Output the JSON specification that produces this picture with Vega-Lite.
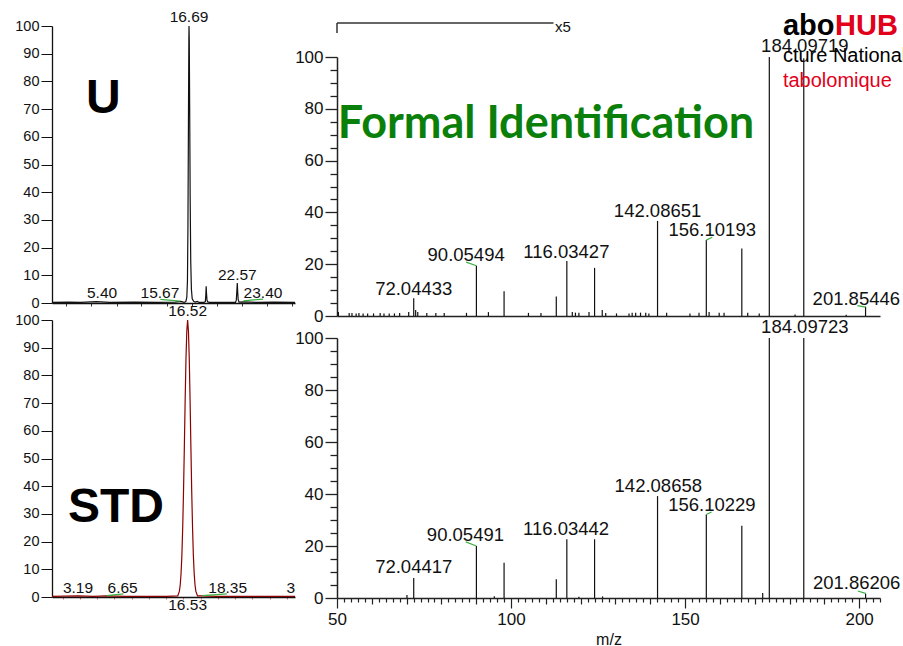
{
  "$schema": "https://vega.github.io/schema/vega-lite/v6.json",
  "autosize": "none",
  "padding": {"left": 52, "top": 26, "right": 851, "bottom": 620},
  "background": "white",
  "bounds": "flush",
  "spacing": 285,
  "datasets": {
    "traceU": [
      {"rt": 0, "inten": 0.2}, {"rt": 2, "inten": 0.3}, {"rt": 3.5, "inten": 0.2}, {"rt": 5.4, "inten": 0.5}, {"rt": 7, "inten": 0.2},
      {"rt": 10, "inten": 0.3}, {"rt": 13, "inten": 0.2}, {"rt": 15, "inten": 0.3}, {"rt": 15.67, "inten": 0.6}, {"rt": 16.1, "inten": 0.2},
      {"rt": 16.3, "inten": 0.5}, {"rt": 16.42, "inten": 2}, {"rt": 16.5, "inten": 8}, {"rt": 16.56, "inten": 28}, {"rt": 16.62, "inten": 65},
      {"rt": 16.67, "inten": 95}, {"rt": 16.69, "inten": 100}, {"rt": 16.72, "inten": 95}, {"rt": 16.77, "inten": 70}, {"rt": 16.83, "inten": 38},
      {"rt": 16.9, "inten": 15}, {"rt": 16.98, "inten": 5}, {"rt": 17.08, "inten": 1.5}, {"rt": 17.25, "inten": 0.6}, {"rt": 17.45, "inten": 0.3},
      {"rt": 17.7, "inten": 0.6}, {"rt": 17.9, "inten": 0.2}, {"rt": 18.5, "inten": 0.2}, {"rt": 18.68, "inten": 0.5}, {"rt": 18.74, "inten": 3},
      {"rt": 18.78, "inten": 6}, {"rt": 18.82, "inten": 3.5}, {"rt": 18.88, "inten": 1}, {"rt": 18.98, "inten": 0.4}, {"rt": 19.2, "inten": 0.2},
      {"rt": 21, "inten": 0.2}, {"rt": 22.35, "inten": 0.2}, {"rt": 22.45, "inten": 1}, {"rt": 22.52, "inten": 4.5}, {"rt": 22.57, "inten": 7.2},
      {"rt": 22.62, "inten": 4}, {"rt": 22.68, "inten": 1.2}, {"rt": 22.78, "inten": 0.3}, {"rt": 23.4, "inten": 0.4}, {"rt": 25, "inten": 0.2},
      {"rt": 27, "inten": 0.3}, {"rt": 29.6, "inten": 0.2}
    ],
    "traceS": [
      {"rt": 0, "inten": 0.2}, {"rt": 3.19, "inten": 0.4}, {"rt": 5, "inten": 0.2}, {"rt": 6.65, "inten": 0.4}, {"rt": 9, "inten": 0.2},
      {"rt": 12, "inten": 0.2}, {"rt": 14, "inten": 0.2}, {"rt": 15.32, "inten": 0.4}, {"rt": 15.52, "inten": 2.1}, {"rt": 15.62, "inten": 4.4},
      {"rt": 15.72, "inten": 8.5}, {"rt": 15.82, "inten": 15}, {"rt": 15.92, "inten": 25}, {"rt": 16.02, "inten": 38}, {"rt": 16.12, "inten": 54},
      {"rt": 16.22, "inten": 71}, {"rt": 16.32, "inten": 86}, {"rt": 16.42, "inten": 96}, {"rt": 16.52, "inten": 100}, {"rt": 16.62, "inten": 96},
      {"rt": 16.72, "inten": 86}, {"rt": 16.82, "inten": 71}, {"rt": 16.92, "inten": 54}, {"rt": 17.02, "inten": 38}, {"rt": 17.12, "inten": 25},
      {"rt": 17.22, "inten": 15}, {"rt": 17.32, "inten": 8.5}, {"rt": 17.42, "inten": 4.4}, {"rt": 17.52, "inten": 2.1}, {"rt": 17.72, "inten": 0.4},
      {"rt": 18.35, "inten": 0.4}, {"rt": 20, "inten": 0.2}, {"rt": 23, "inten": 0.2}, {"rt": 26, "inten": 0.2}, {"rt": 29.6, "inten": 0.2}
    ],
    "labU": [
      {"rt": 6.1, "inten": 1.8, "label": "5.40"},
      {"rt": 13.15, "inten": 1.8, "label": "15.67"},
      {"rt": 16.69, "inten": 101.4, "label": "16.69"},
      {"rt": 22.57, "inten": 8.3, "label": "22.57"},
      {"rt": 25.7, "inten": 1.8, "label": "23.40"}
    ],
    "labS": [
      {"rt": 16.52, "inten": 101.4, "label": "16.52"},
      {"rt": 3.17, "inten": 1.4, "label": "3.19"},
      {"rt": 8.6, "inten": 1.4, "label": "6.65"},
      {"rt": 21.4, "inten": 1.4, "label": "18.35"},
      {"rt": 29.1, "inten": 1.4, "label": "3"},
      {"rt": 16.52, "inten": -4.6, "label": "16.53"}
    ],
    "greenU": [
      {"rt": 13.2, "inten": 1.3, "rt2": 15.6, "inten2": 0.7},
      {"rt": 23.3, "inten": 0.8, "rt2": 25.7, "inten2": 1.4}
    ],
    "greenS": [
      {"rt": 6.66, "inten": 0.5, "rt2": 8.7, "inten2": 1.1},
      {"rt": 18.3, "inten": 0.5, "rt2": 21.3, "inten2": 1.1}
    ],
    "specU": [
      {"mz": 72.04, "rel": 6.9}, {"mz": 90.05, "rel": 19.4}, {"mz": 98.0, "rel": 9.6}, {"mz": 113.0, "rel": 7.5},
      {"mz": 116.03, "rel": 21.2}, {"mz": 124.0, "rel": 18.6}, {"mz": 142.09, "rel": 36.7}, {"mz": 156.1, "rel": 29.3},
      {"mz": 166.3, "rel": 26.1}, {"mz": 174.2, "rel": 100}, {"mz": 184.1, "rel": 99.5}, {"mz": 201.85, "rel": 3.6},
      {"mz": 50.4, "rel": 1.5}, {"mz": 53.5, "rel": 1.2}, {"mz": 54.3, "rel": 1.2}, {"mz": 55.5, "rel": 1.0}, {"mz": 56.3, "rel": 1.2},
      {"mz": 57.5, "rel": 1.0}, {"mz": 58.8, "rel": 1.0}, {"mz": 60.5, "rel": 1.0}, {"mz": 62.4, "rel": 1.2}, {"mz": 63.5, "rel": 1.0},
      {"mz": 65.0, "rel": 1.0}, {"mz": 66.5, "rel": 1.0}, {"mz": 68.0, "rel": 1.2}, {"mz": 70.6, "rel": 1.5}, {"mz": 72.6, "rel": 2.3},
      {"mz": 73.2, "rel": 1.5}, {"mz": 75.8, "rel": 1.2}, {"mz": 78.4, "rel": 1.2}, {"mz": 80.8, "rel": 1.2}, {"mz": 87.2, "rel": 1.2},
      {"mz": 93.5, "rel": 1.5}, {"mz": 105.0, "rel": 1.2}, {"mz": 108.6, "rel": 1.2}, {"mz": 117.6, "rel": 1.5}, {"mz": 118.5, "rel": 1.3},
      {"mz": 119.5, "rel": 1.3}, {"mz": 122.4, "rel": 1.5}, {"mz": 126.2, "rel": 2.3}, {"mz": 127.2, "rel": 1.2}, {"mz": 130.3, "rel": 1.0},
      {"mz": 133.9, "rel": 1.0}, {"mz": 134.8, "rel": 1.3}, {"mz": 135.8, "rel": 1.3}, {"mz": 137.2, "rel": 1.3}, {"mz": 138.7, "rel": 1.3},
      {"mz": 139.6, "rel": 1.0}, {"mz": 144.7, "rel": 1.3}, {"mz": 151.4, "rel": 1.0}, {"mz": 154.0, "rel": 1.3}, {"mz": 156.9, "rel": 1.5},
      {"mz": 159.8, "rel": 1.3}, {"mz": 161.2, "rel": 1.3}, {"mz": 168.0, "rel": 1.3}, {"mz": 171.3, "rel": 1.0}, {"mz": 181.6, "rel": 0.6},
      {"mz": 196.3, "rel": 0.5}
    ],
    "specS": [
      {"mz": 72.04, "rel": 7.7}, {"mz": 90.05, "rel": 20.0}, {"mz": 98.0, "rel": 13.6}, {"mz": 113.0, "rel": 7.2},
      {"mz": 116.03, "rel": 22.6}, {"mz": 124.0, "rel": 22.6}, {"mz": 142.09, "rel": 39.2}, {"mz": 156.1, "rel": 32.1},
      {"mz": 166.3, "rel": 27.8}, {"mz": 174.2, "rel": 100}, {"mz": 184.1, "rel": 100}, {"mz": 201.86, "rel": 1.7},
      {"mz": 172.3, "rel": 1.9}, {"mz": 70.1, "rel": 1.2}, {"mz": 95.2, "rel": 0.7}, {"mz": 126.3, "rel": 0.6}, {"mz": 119.5, "rel": 0.5}
    ],
    "labSpecU": [
      {"mz": 72.04, "rel": 8.1, "label": "72.04433"},
      {"mz": 87.1, "rel": 21.2, "label": "90.05494"},
      {"mz": 115.9, "rel": 22.4, "label": "116.03427"},
      {"mz": 142.1, "rel": 38.2, "label": "142.08651"},
      {"mz": 157.8, "rel": 30.9, "label": "156.10193"},
      {"mz": 184.4, "rel": 101.9, "label": "184.09719"},
      {"mz": 199.2, "rel": 4.2, "label": "201.85446"}
    ],
    "labSpecS": [
      {"mz": 72.04, "rel": 9.5, "label": "72.04417"},
      {"mz": 86.9, "rel": 21.9, "label": "90.05491"},
      {"mz": 115.8, "rel": 24.2, "label": "116.03442"},
      {"mz": 142.3, "rel": 40.7, "label": "142.08658"},
      {"mz": 157.7, "rel": 33.4, "label": "156.10229"},
      {"mz": 184.4, "rel": 102, "label": "184.09723"},
      {"mz": 199.3, "rel": 3.4, "label": "201.86206"}
    ],
    "greenSpecU": [
      {"mz": 87.1, "rel": 20.8, "mz2": 90.05, "rel2": 19.4},
      {"mz": 156.1, "rel": 29.3, "mz2": 157.8, "rel2": 30.4},
      {"mz": 199.5, "rel": 4.0, "mz2": 201.85, "rel2": 3.4}
    ],
    "greenSpecS": [
      {"mz": 87.0, "rel": 21.6, "mz2": 90.05, "rel2": 20.0},
      {"mz": 156.1, "rel": 32.1, "mz2": 157.6, "rel2": 33.1},
      {"mz": 199.6, "rel": 2.7, "mz2": 201.86, "rel2": 1.8}
    ],
    "bracket": [
      {"mz": 50, "rel": 113.1, "mz2": 112.2, "rel2": 113.1},
      {"mz": 50, "rel": 109.3, "mz2": 50, "rel2": 113.1}
    ],
    "annoTR": [
      {"mz": 112.6, "rel": 109.6, "label": "x5"}
    ]
  },
  "hconcat": [
    {
      "bounds": "flush",
      "spacing": 17,
      "vconcat": [
        {
          "width": 243,
          "height": 277,
          "encoding": {
            "x": {"field": "rt", "type": "quantitative", "scale": {"domain": [0, 29.6], "nice": false, "zero": false},
              "axis": {"title": null, "labels": false, "values": [1.7, 4.8, 7.9, 10.9, 14, 17, 20.1, 23.1, 26.2, 29.2], "tickSize": 3, "domainColor": "#111", "domainWidth": 1.3, "tickColor": "#333"}},
            "y": {"field": "inten", "type": "quantitative", "scale": {"domain": [0, 100], "nice": false},
              "axis": {"title": null, "values": [0, 10, 20, 30, 40, 50, 60, 70, 80, 90, 100], "tickSize": 11, "labelFontSize": 14.5, "labelPadding": 2, "labelOverlap": false, "domainColor": "#111", "domainWidth": 1.3, "tickColor": "#111", "labelColor": "#111"}}
          },
          "layer": [
            {"data": {"name": "traceU"}, "mark": {"type": "line", "color": "#111111", "strokeWidth": 1.2}},
            {"data": {"name": "greenU"}, "mark": {"type": "rule", "color": "#3cb043", "strokeWidth": 1.2},
              "encoding": {"x2": {"field": "rt2"}, "y2": {"field": "inten2"}}},
            {"data": {"name": "labU"}, "mark": {"type": "text", "fontSize": 15.5, "baseline": "alphabetic", "align": "center", "color": "#111"},
              "encoding": {"text": {"field": "label"}}},
            {"data": {"values": [{"rt": 4.14, "inten": 68.6, "label": "U"}]},
              "mark": {"type": "text", "fontSize": 48, "fontWeight": "bold", "align": "left", "baseline": "alphabetic", "color": "#000"},
              "encoding": {"text": {"field": "label"}}}
          ]
        },
        {
          "width": 243,
          "height": 277,
          "encoding": {
            "x": {"field": "rt", "type": "quantitative", "scale": {"domain": [0, 29.6], "nice": false, "zero": false},
              "axis": {"title": null, "labels": false, "values": [1.3, 3.4, 5.5, 7.6, 9.7, 11.8, 13.9, 16, 18.1, 20.2, 22.3, 24.4, 26.5, 28.6], "tickSize": 2, "domainColor": "#111", "domainWidth": 1.3, "tickColor": "#e07070"}},
            "y": {"field": "inten", "type": "quantitative", "scale": {"domain": [0, 100], "nice": false},
              "axis": {"title": null, "values": [0, 10, 20, 30, 40, 50, 60, 70, 80, 90, 100], "tickSize": 11, "labelFontSize": 14.5, "labelPadding": 2, "labelOverlap": false, "domainColor": "#111", "domainWidth": 1.3, "tickColor": "#111", "labelColor": "#111"}}
          },
          "layer": [
            {"data": {"name": "traceS"}, "mark": {"type": "line", "color": "#8b0000", "strokeWidth": 1.2}},
            {"data": {"name": "greenS"}, "mark": {"type": "rule", "color": "#3cb043", "strokeWidth": 1.2},
              "encoding": {"x2": {"field": "rt2"}, "y2": {"field": "inten2"}}},
            {"data": {"name": "labS"}, "mark": {"type": "text", "fontSize": 15.5, "baseline": "alphabetic", "align": "center", "color": "#111"},
              "encoding": {"text": {"field": "label"}}},
            {"data": {"values": [{"rt": 1.95, "inten": 27.1, "label": "STD"}]},
              "mark": {"type": "text", "fontSize": 48, "fontWeight": "bold", "align": "left", "baseline": "alphabetic", "color": "#000"},
              "encoding": {"text": {"field": "label"}}}
          ]
        }
      ]
    },
    {
      "bounds": "flush",
      "spacing": 22,
      "vconcat": [
        {
          "width": 543,
          "height": 9,
          "data": {"values": [{"t": ""}]},
          "mark": {"type": "text"},
          "encoding": {"text": {"field": "t"}}
        },
        {
          "width": 543,
          "height": 259,
          "encoding": {
            "x": {"field": "mz", "type": "quantitative", "scale": {"domain": [50, 206], "nice": false, "zero": false},
              "axis": {"title": null, "labels": false, "ticks": false, "domainColor": "#222", "domainWidth": 1.5}},
            "y": {"field": "rel", "type": "quantitative", "scale": {"domain": [0, 100], "nice": false},
              "axis": {"title": null, "values": [0, 5, 10, 15, 20, 25, 30, 35, 40, 45, 50, 55, 60, 65, 70, 75, 80, 85, 90, 95, 100],
                "labelExpr": "datum.value % 20 === 0 ? datum.label : ''",
                "tickSize": {"condition": {"test": "datum.value % 20 === 0", "value": 12}, "value": 7},
                "labelFontSize": 17, "labelPadding": 2, "labelOverlap": false, "labelSeparation": -1000,
                "domainColor": "#222", "domainWidth": 1.5, "tickColor": "#222", "tickWidth": 1.3, "labelColor": "#111"}}
          },
          "layer": [
            {"data": {"name": "specU"}, "mark": {"type": "rule", "color": "#111", "strokeWidth": 1.2},
              "encoding": {"y2": {"datum": 0}}},
            {"data": {"name": "greenSpecU"}, "mark": {"type": "rule", "color": "#3cb043", "strokeWidth": 1.2},
              "encoding": {"x2": {"field": "mz2"}, "y2": {"field": "rel2"}}},
            {"data": {"name": "bracket"}, "mark": {"type": "rule", "color": "#333", "strokeWidth": 1.5},
              "encoding": {"x2": {"field": "mz2"}, "y2": {"field": "rel2"}}},
            {"data": {"name": "annoTR"}, "mark": {"type": "text", "fontSize": 15, "align": "left", "baseline": "alphabetic", "color": "#111"},
              "encoding": {"text": {"field": "label"}}},
            {"data": {"name": "labSpecU"}, "mark": {"type": "text", "fontSize": 18.5, "align": "center", "baseline": "alphabetic", "color": "#111"},
              "encoding": {"text": {"field": "label"}}},
            {"data": {"values": [{"mz": 50.2, "rel": 68.7, "label": "Formal Identification"}]},
              "mark": {"type": "text", "font": "Lato", "fontSize": 45, "fontWeight": "bold", "align": "left", "baseline": "alphabetic", "color": "#0a800a"},
              "encoding": {"text": {"field": "label"}}},
            {"data": {"values": [{"mz": 178.1, "rel": 108.5, "label": "abo"}]},
              "mark": {"type": "text", "fontSize": 29, "fontWeight": "bold", "align": "left", "baseline": "alphabetic", "color": "#000"},
              "encoding": {"text": {"field": "label"}}},
            {"data": {"values": [{"mz": 193.1, "rel": 108.5, "label": "HUB"}]},
              "mark": {"type": "text", "fontSize": 29, "fontWeight": "bold", "align": "left", "baseline": "alphabetic", "color": "#e2001a"},
              "encoding": {"text": {"field": "label"}}},
            {"data": {"values": [{"mz": 178.1, "rel": 98.1, "label": "cture Nationale"}]},
              "mark": {"type": "text", "fontSize": 20, "align": "left", "baseline": "alphabetic", "color": "#000"},
              "encoding": {"text": {"field": "label"}}},
            {"data": {"values": [{"mz": 178.1, "rel": 88.4, "label": "tabolomique"}]},
              "mark": {"type": "text", "fontSize": 20, "align": "left", "baseline": "alphabetic", "color": "#e2001a"},
              "encoding": {"text": {"field": "label"}}}
          ]
        },
        {
          "width": 543,
          "height": 260,
          "encoding": {
            "x": {"field": "mz", "type": "quantitative", "scale": {"domain": [50, 206], "nice": false, "zero": false},
              "axis": {"title": "m/z", "titleFontSize": 16, "titleFontWeight": "normal", "titleColor": "#111", "titlePadding": 4,
                "values": [50, 52, 54, 56, 58, 60, 62, 64, 66, 68, 70, 72, 74, 76, 78, 80, 82, 84, 86, 88, 90, 92, 94, 96, 98, 100, 102, 104, 106, 108, 110, 112, 114, 116, 118, 120, 122, 124, 126, 128, 130, 132, 134, 136, 138, 140, 142, 144, 146, 148, 150, 152, 154, 156, 158, 160, 162, 164, 166, 168, 170, 172, 174, 176, 178, 180, 182, 184, 186, 188, 190, 192, 194, 196, 198, 200, 202, 204, 206],
                "labelExpr": "datum.value % 50 === 0 ? datum.label : ''",
                "tickSize": {"condition": [{"test": "datum.value % 50 === 0", "value": 10}, {"test": "datum.value % 10 === 0", "value": 6}], "value": 4},
                "labelFontSize": 17, "labelPadding": 3, "labelOverlap": false, "labelSeparation": -1000, "labelFlush": false,
                "domainColor": "#222", "domainWidth": 1.5, "tickColor": "#222", "tickWidth": 1.2, "labelColor": "#111"}},
            "y": {"field": "rel", "type": "quantitative", "scale": {"domain": [0, 100], "nice": false},
              "axis": {"title": null, "values": [0, 5, 10, 15, 20, 25, 30, 35, 40, 45, 50, 55, 60, 65, 70, 75, 80, 85, 90, 95, 100],
                "labelExpr": "datum.value % 20 === 0 ? datum.label : ''",
                "tickSize": {"condition": {"test": "datum.value % 20 === 0", "value": 12}, "value": 7},
                "labelFontSize": 17, "labelPadding": 2, "labelOverlap": false, "labelSeparation": -1000,
                "domainColor": "#222", "domainWidth": 1.5, "tickColor": "#222", "tickWidth": 1.3, "labelColor": "#111"}}
          },
          "layer": [
            {"data": {"name": "specS"}, "mark": {"type": "rule", "color": "#111", "strokeWidth": 1.2},
              "encoding": {"y2": {"datum": 0}}},
            {"data": {"name": "greenSpecS"}, "mark": {"type": "rule", "color": "#3cb043", "strokeWidth": 1.2},
              "encoding": {"x2": {"field": "mz2"}, "y2": {"field": "rel2"}}},
            {"data": {"name": "labSpecS"}, "mark": {"type": "text", "fontSize": 18.5, "align": "center", "baseline": "alphabetic", "color": "#111"},
              "encoding": {"text": {"field": "label"}}}
          ]
        }
      ]
    }
  ],
  "config": {
    "view": {"stroke": null},
    "font": "Liberation Sans",
    "text": {"font": "Liberation Sans"},
    "axis": {"labelFont": "Liberation Sans", "titleFont": "Liberation Sans", "grid": false, "labelFontSize": 14.5}
  }
}
